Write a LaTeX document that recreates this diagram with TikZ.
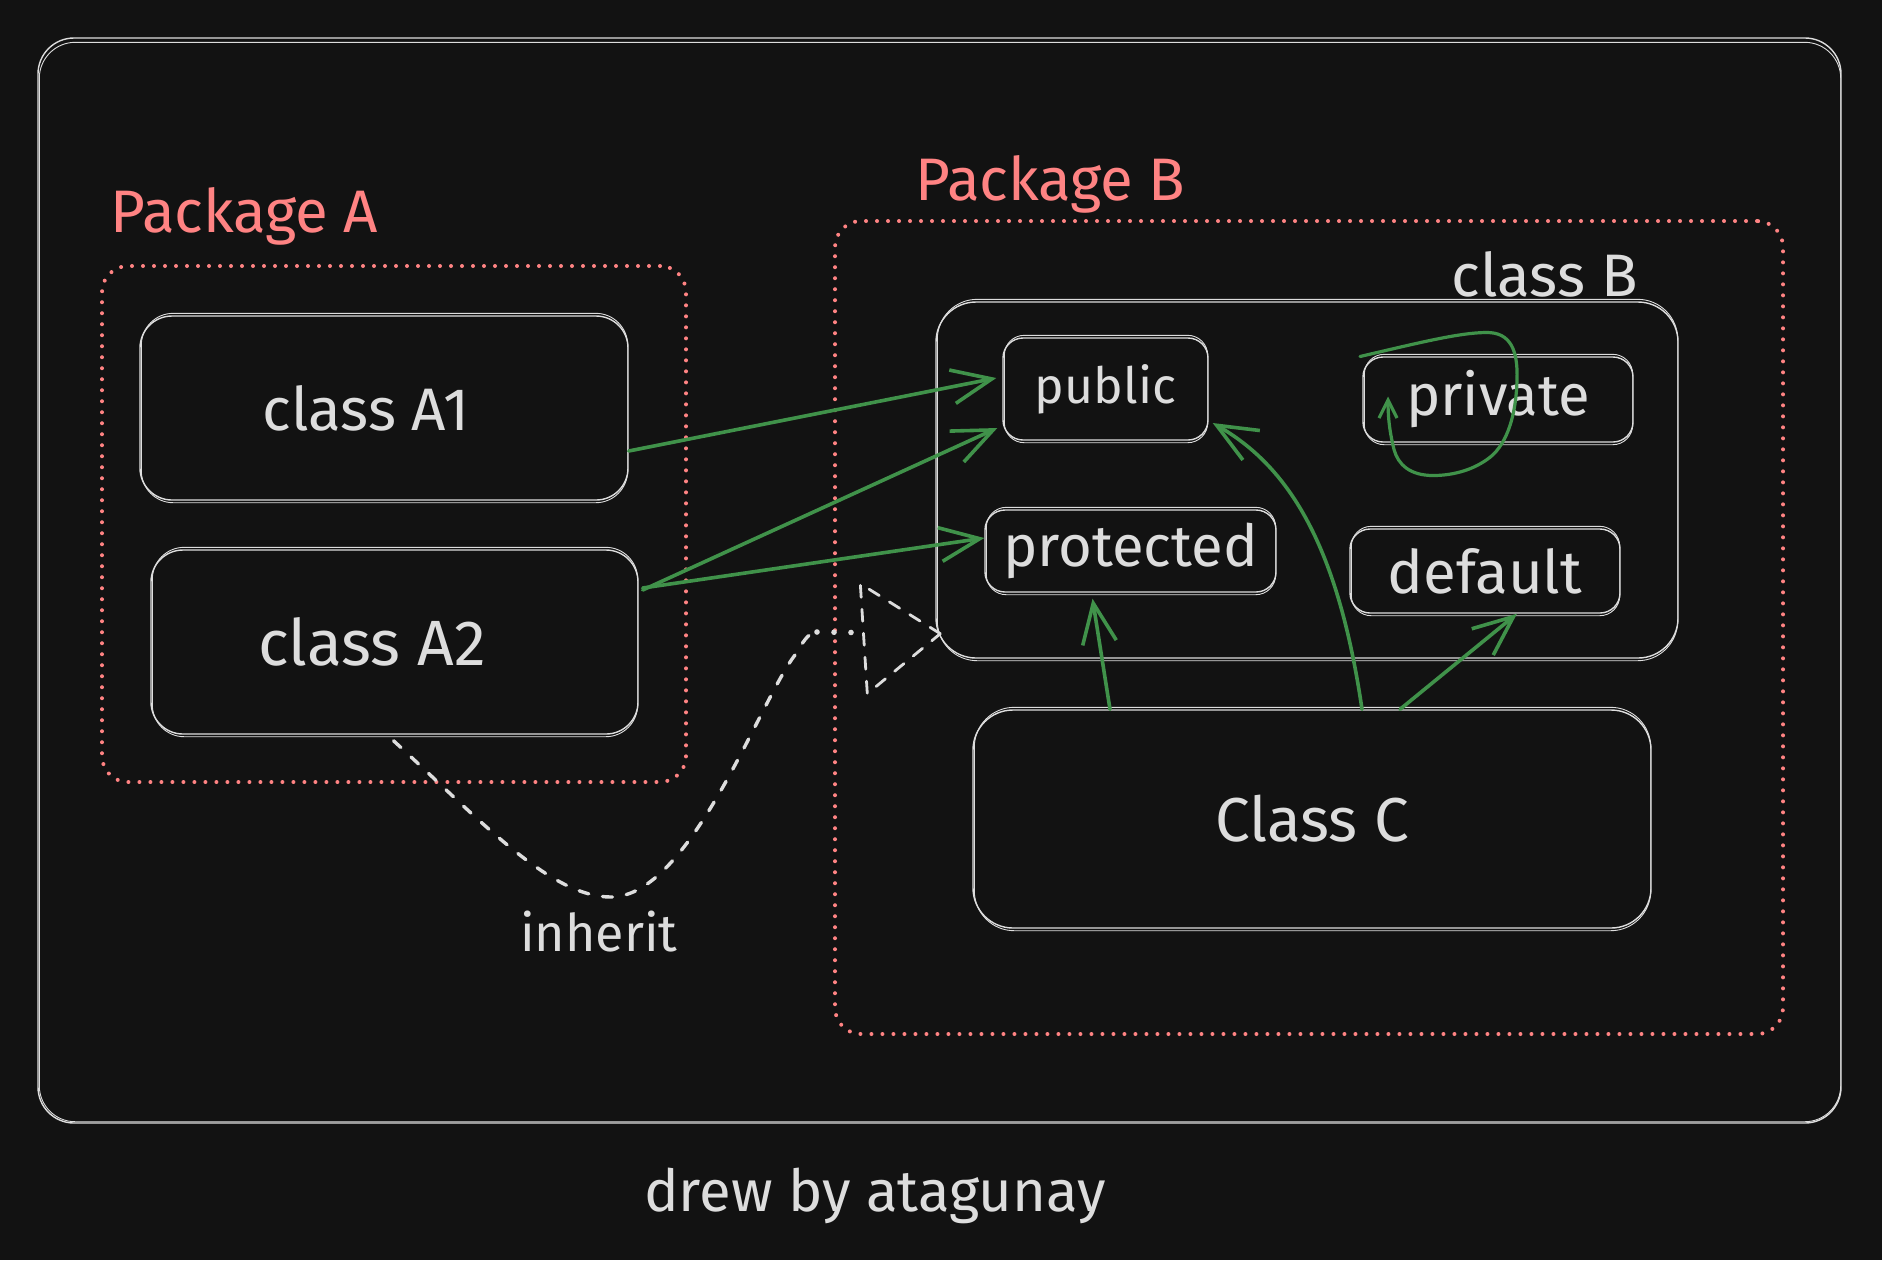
\documentclass[tikz,border=0pt]{standalone}
\usepackage{fontspec}
\setmainfont{Fira Sans}
\usetikzlibrary{arrows.meta,calc}
\definecolor{bg}{HTML}{121212}
\definecolor{fg}{HTML}{DDDDDD}
\definecolor{sal}{HTML}{FF8383}
\definecolor{grn}{HTML}{40924A}
\begin{document}
\begin{tikzpicture}[x=0.5pt,y=-0.5pt,
  fs/.style={font=\fontsize{#1}{#1}\selectfont},
  box/.style={draw=fg, line width=0.7pt, rounded corners=16pt, inner sep=0pt, text=fg, fs=28},
  smallbox/.style={box, rounded corners=10pt},
  pkg/.style={draw=sal, line width=2pt, line cap=round, dash pattern=on 0pt off 5.5pt, rounded corners=13pt, inner sep=0pt},
  frame/.style={draw=fg, line width=0.7pt, rounded corners=18pt, inner sep=0pt},
  rough/.style={draw=fg, line width=0.45pt},
  lbl/.style={text=sal, fs=30, inner sep=0pt},
  txt/.style={text=fg, fs=26, inner sep=0pt},
  garrow/.style={draw=grn, line width=1.8pt, line cap=round, -{Straight Barb[length=20pt,width=17pt]}},
  dashline/.style={draw=fg, line width=1.7pt, line cap=round, dash pattern=on 5pt off 7pt}
]
\fill[bg] (0,0) rectangle (1882,1260);
\useasboundingbox (0,0) rectangle (1882,1260);

% outer frame and packages
\node[frame, minimum width=901.5pt, minimum height=542.5pt] (fr) at (939.5,580.5) {};
\node[pkg, minimum width=292pt, minimum height=258pt] (pkA) at (394,524) {};
\node[pkg, minimum width=474pt, minimum height=406.5pt] (pkB) at (1309,627.5) {};

% classes
\node[box, fs=30, minimum width=244pt, minimum height=92pt] (a1) at (384,408) {class A1\hspace*{18pt}};
\node[box, fs=32, minimum width=243.5pt, minimum height=92pt] (a2) at (394.5,642) {class A2\hspace*{22pt}};
\node[box, rounded corners=20pt, minimum width=371pt, minimum height=178pt] (cB) at (1307,480) {};
\node[smallbox, fs=25, minimum width=102.5pt, minimum height=51pt] (pub) at (1105.5,389) {public};
\node[smallbox, fs=29, minimum width=135pt, minimum height=42.5pt] (pv) at (1498,399.5) {private};
\node[smallbox, fs=29, minimum width=145.5pt, minimum height=41pt] (prot) at (1130.5,551) {protected};
\node[smallbox, fs=30, minimum width=135pt, minimum height=42pt] (def) at (1485,571) {default};
\node[box, fs=31, rounded corners=20pt, minimum width=339pt, minimum height=109pt] (cC) at (1312,819) {Class C};

% second (sketchy) strokes
\draw[rough, rounded corners=18pt] ($(fr.north west)+(2,5)$) rectangle ($(fr.south east)+(-1,-2)$);
\foreach \n/\r in {a1/16pt, a2/16pt, cB/20pt, cC/20pt, pub/10pt, pv/10pt, prot/10pt, def/10pt}
  \draw[rough, rounded corners=\r] ($(\n.north west)+(2,-2)$) rectangle ($(\n.south east)+(-1,2)$);

% labels
\node[lbl, anchor=base west] (la) at (110,232) {Package A};
\node[lbl, anchor=base west] (lb) at (915,200) {Package B};
\node[txt, fs=30, anchor=base east] (lcb) at (1638,296) {class B};
\node[txt] (inh) at (599,932) {inherit};
\node[txt, fs=29] (drew) at (875,1196) {drew by atagunay};

% green arrows
\draw[garrow] ($(a1.east)+(0,43)$) -- ($(pub.west)+(-6,-11)$);
\draw[garrow] ($(a2.east)+(4,-52)$) -- ($(pub.west)+(-5,39)$);
\draw[garrow] ($(a2.east)+(4,-54)$) -- ($(prot.west)+(0,-13)$);
\draw[garrow] ($(cC.north)+(-202,0)$) -- ($(prot.south)+(-38,6)$);
\draw[garrow] ($(cC.north)+(50,0)$) .. controls ($(cC.north)+(25,-170)$) and ($(pub.east)+(77,76)$) .. ($(pub.east)+(4,34)$);
\draw[garrow] ($(cC.north)+(88,0)$) -- ($(def.south)+(32,0)$);

% self loop on private
\begin{scope}[shift={(pv.center)}]
\draw[draw=grn, line width=1.6pt, line cap=round, -{Straight Barb[length=9pt,width=9pt]}]
  (-138,-43) .. controls (-78,-57) and (-38,-67) .. (-11,-67)
  .. controls (12,-67) and (20,-50) .. (19,-20)
  .. controls (18,20) and (7,48) .. (-11,60)
  .. controls (-28,72) and (-48,76) .. (-65,76)
  .. controls (-88,76) and (-100,65) .. (-104,50)
  .. controls (-109,30) and (-110,15) .. (-110,-3);
\end{scope}

% inherit connector
\coordinate (tip) at ($(cB.south west)+(5,-25)$);
\draw[dashline] ($(a2.south)+(-1,6)$) .. controls (480,820) and (550,897) .. (611,897)
  .. controls (690,897) and (760,700) .. (795,655)
  .. controls (803,642) and (808,633) .. (815,633);
\draw[draw=fg, line width=2.8pt, line cap=round, dash pattern=on 0pt off 8.5pt] (817,632) -- ($(tip)+(-73,-1)$);
\draw[dashline, line width=1.4pt, dash pattern=on 6pt off 6pt] (tip) -- ($(tip)+(-80,-50)$) -- ($(tip)+(-73,60)$) -- cycle;
\end{tikzpicture}
\end{document}
